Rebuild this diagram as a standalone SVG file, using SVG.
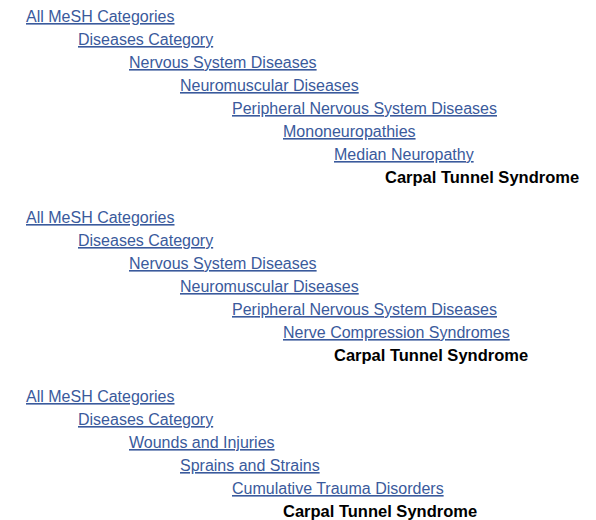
<svg xmlns="http://www.w3.org/2000/svg" width="596" height="520" viewBox="0 0 596 520">
  <style>
    text { font-family: "Liberation Sans", Arial, sans-serif; font-size: 16px; }
    .link { fill: #3a5a9c; text-decoration: underline; }
    .term { fill: #000000; font-weight: bold; font-size: 16.5px; }
  </style>
  <rect width="596" height="520" fill="#ffffff"/>

  <!-- Tree path 1 -->
  <g id="path1">
    <text class="link" x="26" y="22">All MeSH Categories</text>
    <text class="link" x="78" y="45">Diseases Category</text>
    <text class="link" x="129" y="68">Nervous System Diseases</text>
    <text class="link" x="180" y="91">Neuromuscular Diseases</text>
    <text class="link" x="232" y="114">Peripheral Nervous System Diseases</text>
    <text class="link" x="283" y="137">Mononeuropathies</text>
    <text class="link" x="334" y="160">Median Neuropathy</text>
    <text class="term" x="385" y="183">Carpal Tunnel Syndrome</text>
  </g>

  <!-- Tree path 2 -->
  <g id="path2">
    <text class="link" x="26" y="223">All MeSH Categories</text>
    <text class="link" x="78" y="246">Diseases Category</text>
    <text class="link" x="129" y="269">Nervous System Diseases</text>
    <text class="link" x="180" y="292">Neuromuscular Diseases</text>
    <text class="link" x="232" y="315">Peripheral Nervous System Diseases</text>
    <text class="link" x="283" y="338">Nerve Compression Syndromes</text>
    <text class="term" x="334" y="361">Carpal Tunnel Syndrome</text>
  </g>

  <!-- Tree path 3 -->
  <g id="path3">
    <text class="link" x="26" y="402">All MeSH Categories</text>
    <text class="link" x="78" y="425">Diseases Category</text>
    <text class="link" x="129" y="448">Wounds and Injuries</text>
    <text class="link" x="180" y="471">Sprains and Strains</text>
    <text class="link" x="232" y="494">Cumulative Trauma Disorders</text>
    <text class="term" x="283" y="517">Carpal Tunnel Syndrome</text>
  </g>
</svg>
